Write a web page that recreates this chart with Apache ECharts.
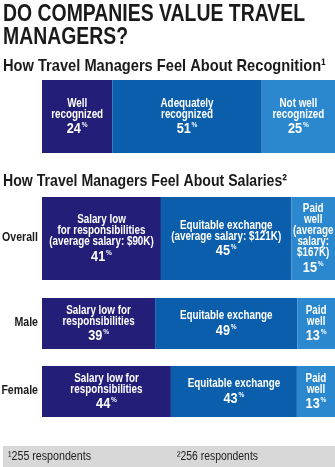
<!DOCTYPE html>
<html><head><meta charset="utf-8">
<script src="https://cdn.jsdelivr.net/npm/echarts@6/dist/echarts.min.js"></script>
<style>html,body{margin:0;padding:0;background:#fff}#c{width:335px;height:467px}</style>
</head><body><div id="c"></div>
<script>
const recogLabels = ['Well\nrecognized', 'Adequately\nrecognized', 'Not well\nrecognized'];
const recogValues = [24, 51, 25];
const salaryGroups = ['Overall', 'Male', 'Female'];
const salaryLow = [41, 39, 44];
const equitable = [45, 49, 43];
const paidWell = [15, 13, 13];
const salaryLowLabels = ['Salary low\nfor responsibilities\n(average salary: $90K)', 'Salary low for\nresponsibilities', 'Salary low for\nresponsibilities'];
const equitableLabels = ['Equitable exchange\n(average salary: $121K)', 'Equitable exchange', 'Equitable exchange'];
const paidWellLabels = ['Paid\nwell\n(average\nsalary:\n$167K)', 'Paid\nwell', 'Paid\nwell'];

const colors = ['#231f78', '#0a5eab', '#2b88cf'];
const FONT = '"Liberation Sans", Arial, sans-serif';
const LABEL_SCALE = 0.82;

const mctx = document.createElement('canvas').getContext('2d');
function fitScale(text, font, width) { mctx.font = font; return width / mctx.measureText(text).width; }

const rich = {
  t: {fill: '#fff', fontFamily: FONT, fontWeight: 'bold', fontSize: 12, lineHeight: 11},
  n: {fill: '#fff', fontFamily: FONT, fontWeight: 'bold', fontSize: 15.5, lineHeight: 18},
  p: {fill: '#fff', fontFamily: FONT, fontWeight: 'bold', fontSize: 8, lineHeight: 18, verticalAlign: 'top', padding: [1, 0, 0, 1]}
};
function fmt(text, val) {
  return text.split('\n').map(s => '{t|' + s + '}').join('\n') + '\n{n|' + val + '}{p|%}';
}

function labelSeries(gi, vals, labs) {
  let acc = 0;
  const data = vals.map((v, i) => { const d = [acc, 0, v, i]; acc += v; return d; });
  return {
    type: 'custom', xAxisIndex: gi, yAxisIndex: gi, encode: {x: 0, y: 1}, data: data, z: 5, silent: true,
    renderItem: function (params, api) {
      const s = api.value(0), v = api.value(2), i = api.value(3);
      const p = api.coord([s + v / 2, 0]);
      return {type: 'text', x: p[0], y: p[1] + 1.5, scaleX: LABEL_SCALE,
        style: {text: fmt(labs[i], vals[i]), rich: rich, align: 'center', verticalAlign: 'middle', fill: '#fff'}};
    }
  };
}
function rowLabelSeries(gi, name) {
  return {
    type: 'custom', xAxisIndex: gi, yAxisIndex: gi, encode: {x: 0, y: 1}, data: [[0, 0]], z: 5, silent: true,
    renderItem: function (params, api) {
      const p = api.coord([0, 0]);
      return {type: 'text', x: p[0] - 4, y: p[1] - 0.5, scaleX: 0.85,
        style: {text: name, font: 'bold 12.5px ' + FONT, fill: '#1a1a1a', align: 'right', verticalAlign: 'middle'}};
    }
  };
}

const grids = [
  {left: 42, right: 0, top: 80, height: 73, outerBoundsMode: 'none'},
  {left: 42, right: 0, top: 197, height: 83, outerBoundsMode: 'none'},
  {left: 42, right: 0, top: 298, height: 51, outerBoundsMode: 'none'},
  {left: 42, right: 0, top: 366, height: 51, outerBoundsMode: 'none'}
];
const xAxes = [], yAxes = [], series = [];
xAxes.push({gridIndex: 0, type: 'value', min: 0, max: recogValues.reduce((a, b) => a + b, 0), show: false});
yAxes.push({gridIndex: 0, type: 'category', data: [''], show: false});
recogValues.forEach((v, i) => {
  series.push({type: 'bar', xAxisIndex: 0, yAxisIndex: 0, stack: 'r', barWidth: '100%', data: [v],
    itemStyle: {color: colors[i]}, silent: true});
});
series.push(labelSeries(0, recogValues, recogLabels));
salaryGroups.forEach((g, k) => {
  const gi = k + 1;
  const vals = [salaryLow[k], equitable[k], paidWell[k]];
  const labs = [salaryLowLabels[k], equitableLabels[k], paidWellLabels[k]];
  xAxes.push({gridIndex: gi, type: 'value', min: 0, max: vals.reduce((a, b) => a + b, 0), show: false});
  yAxes.push({gridIndex: gi, type: 'category', data: [g], axisLine: {show: false}, axisTick: {show: false},
    axisLabel: {show: false}});
  vals.forEach((v, i) => {
    series.push({type: 'bar', xAxisIndex: gi, yAxisIndex: gi, stack: 's' + k, barWidth: '100%', data: [v],
      itemStyle: {color: colors[i]}, silent: true});
  });
  series.push(labelSeries(gi, vals, labs));
  series.push(rowLabelSeries(gi, g));
});

const titleFont = 'bold 24px ' + FONT;
const subFont = 'bold 17px ' + FONT;
const footFont = '12px ' + FONT;
function txt(text, font, x, y, width, fill) {
  return {type: 'text', x: x, y: y, scaleX: fitScale(text, font, width),
    style: {text: text, font: font, fill: fill || '#1a1a1a', align: 'left', verticalAlign: 'middle'}};
}

const chart = echarts.init(document.getElementById('c'), null, {renderer: 'canvas'});
chart.setOption({
  animation: false,
  grid: grids, xAxis: xAxes, yAxis: yAxes, series: series,
  graphic: [
    txt('DO COMPANIES VALUE TRAVEL', titleFont, 3, 14, 302),
    txt('MANAGERS?', titleFont, 3, 37.5, 125),
    txt('How Travel Managers Feel About Recognition¹', subFont, 3, 66.5, 323),
    txt('How Travel Managers Feel About Salaries²', subFont, 3, 181, 284),
    {type: 'rect', shape: {x: 3, y: 446, width: 332, height: 21}, style: {fill: '#d8d8d8'}},
    txt('¹255 respondents', footFont, 8, 456.5, 83, '#222'),
    txt('²256 respondents', footFont, 177, 456.5, 81, '#222')
  ]
});
</script></body></html>
